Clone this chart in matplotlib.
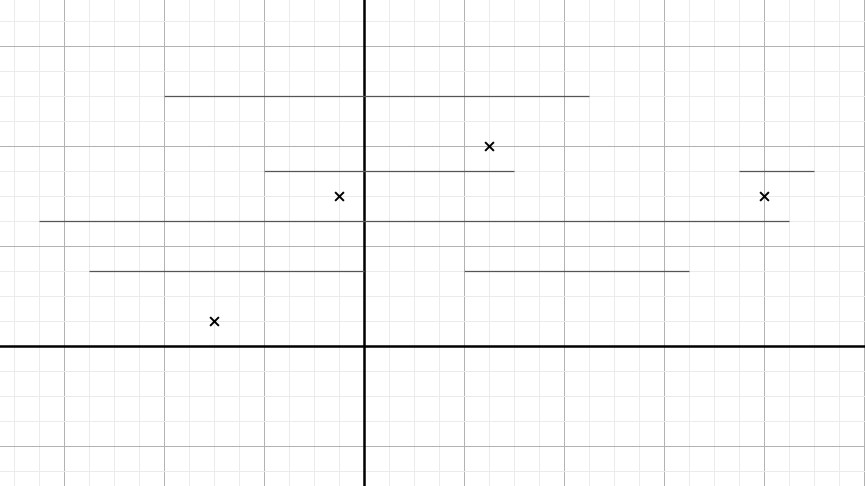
import matplotlib
matplotlib.use("Agg")
import matplotlib.pyplot as plt
from matplotlib.ticker import MultipleLocator

# horizontal segments: y, x start, x end
seg_y = [2.5, 1.75, 1.75, 1.25, 0.75, 0.75]
seg_x0 = [-2.0, -1.0, 3.75, -3.25, -2.75, 1.0]
seg_x1 = [2.25, 1.5, 4.5, 4.25, 0.0, 3.25]

# cross markers
pt_x = [1.25, -0.25, 4.0, -1.5]
pt_y = [2.0, 1.5, 1.5, 0.25]

fig = plt.figure(figsize=(8.65, 4.86), dpi=100)
ax = fig.add_axes([0, 0, 1, 1])
ax.set_xlim(-3.64, 5.01)
ax.set_ylim(-1.40, 3.46)

ax.xaxis.set_major_locator(MultipleLocator(1))
ax.yaxis.set_major_locator(MultipleLocator(1))
ax.xaxis.set_minor_locator(MultipleLocator(0.25))
ax.yaxis.set_minor_locator(MultipleLocator(0.25))
ax.grid(True, which="minor", color="#ebebeb", linewidth=0.7)
ax.grid(True, which="major", color="#b0b0b0", linewidth=0.7)
ax.tick_params(which="both", length=0, labelbottom=False, labelleft=False)
for s in ax.spines.values():
    s.set_visible(False)
ax.set_axisbelow(True)

ax.axhline(0, color="black", linewidth=1.8)
ax.axvline(0, color="black", linewidth=1.8)

ax.hlines(seg_y, seg_x0, seg_x1, color="#555555", linewidth=0.9)
ax.scatter(pt_x, pt_y, marker="x", color="black", s=40, linewidths=1.4, zorder=5)

fig.savefig("out.png", dpi=100)
